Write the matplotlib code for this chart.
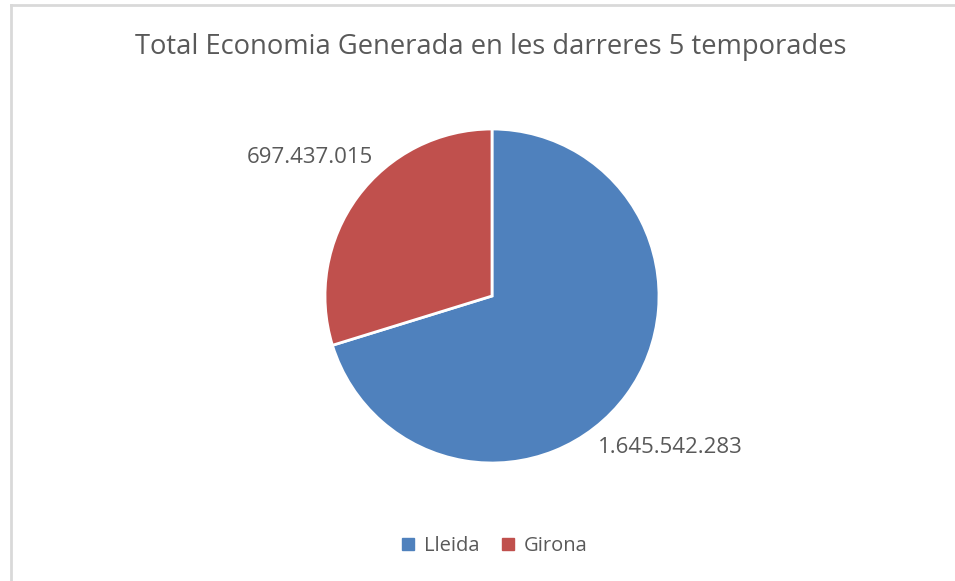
import numpy as np
import matplotlib.pyplot as plt
from matplotlib.patches import Rectangle

# =========================================================
# DATA
# =========================================================

categories = ["Lleida", "Girona"]
values = [1645542283, 697437015]
value_labels = ["1.645.542.283", "697.437.015"]
colors = ["#4F81BD", "#C0504D"]

TITLE = "Total Economia Generada en les darreres 5 temporades"
TEXT_COLOR = "#595959"

# label placement (radius multiple, angle in degrees) like Excel's best fit
LABEL_POS = [(1.40, -40.3), (1.37, 142.8)]

plt.rcParams['font.family'] = ['Open Sans', 'DejaVu Sans']

# =========================================================
# FIGURE
# =========================================================

fig = plt.figure(figsize=(9.55, 5.81), dpi=100)

# chart border (only top and left visible in the crop)
fig.add_artist(plt.Line2D([11 / 955, 11 / 955], [0, 1 - 5 / 581],
                          transform=fig.transFigure, color="#d9d9d9", lw=2))
fig.add_artist(plt.Line2D([11 / 955, 1], [1 - 5 / 581, 1 - 5 / 581],
                          transform=fig.transFigure, color="#d9d9d9", lw=2))

# pie axes: center (492, 296), radius 167 px
r_px = 167
cx, cy = 492, 296
ax = fig.add_axes([(cx - r_px) / 955, 1 - (cy + r_px) / 581,
                   2 * r_px / 955, 2 * r_px / 581])

wedges, texts = ax.pie(
    values,
    labels=value_labels,
    colors=colors,
    startangle=90,
    counterclock=False,
    radius=1.0,
    wedgeprops=dict(edgecolor="white", linewidth=2),
    textprops=dict(color=TEXT_COLOR, fontsize=16),
)
for t, (d, a) in zip(texts, LABEL_POS):
    t.set_position((d * np.cos(np.radians(a)), d * np.sin(np.radians(a))))
    t.set_ha("center")
    t.set_va("center")
ax.set_xlim(-1, 1)
ax.set_ylim(-1, 1)
ax.set_aspect("equal")

fig.text(491 / 955, 1 - 47 / 581, TITLE, ha="center", va="center",
         fontsize=19.7, color=TEXT_COLOR)

handles = [Rectangle((0, 0), 1, 1, color=c) for c in colors]
fig.legend(handles, categories, loc="center", bbox_to_anchor=(495 / 955, 1 - 546 / 581),
           ncol=2, frameon=False, fontsize=14.5, handlelength=0.6, handleheight=0.6,
           handletextpad=0.5, columnspacing=1.1, labelcolor=TEXT_COLOR)

plt.savefig("out.png", dpi=100)
